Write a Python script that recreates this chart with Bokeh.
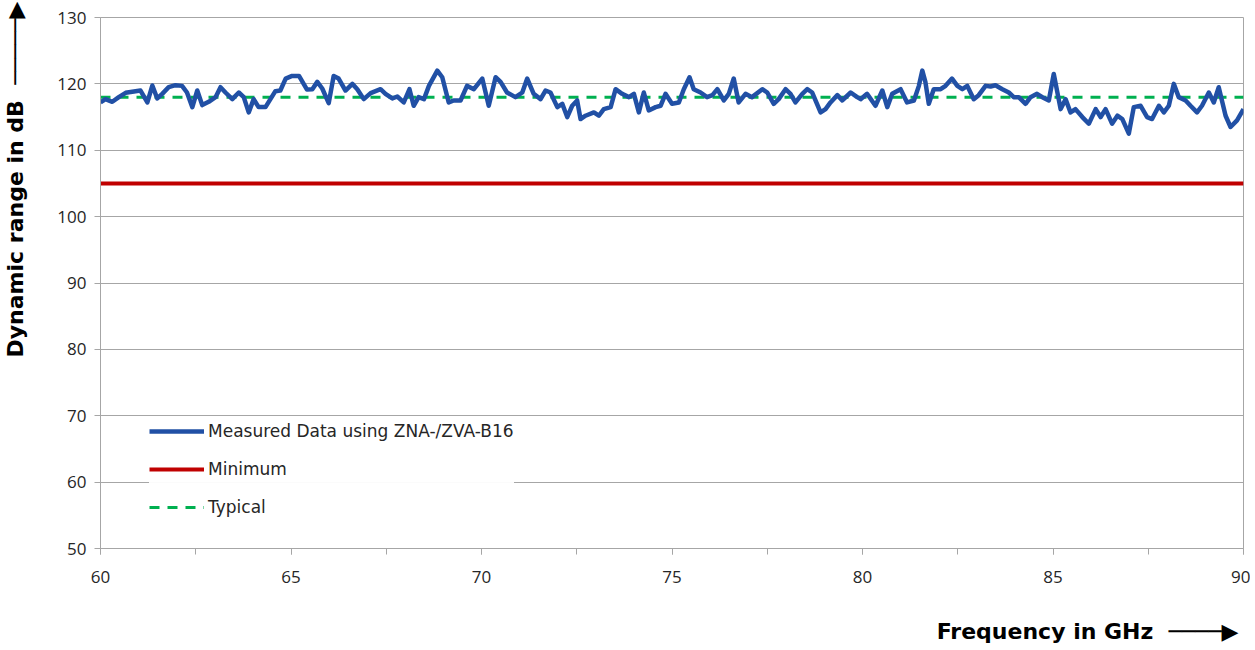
from bokeh.plotting import figure
from bokeh.models import (Legend, LegendItem, Title, SingleIntervalTicker, Range1d)
from bokeh.embed import file_html
from bokeh.resources import INLINE

freq = [60.00, 60.13, 60.31, 60.48, 60.66, 60.92, 61.05, 61.23, 61.36, 61.49,
        61.62, 61.79, 61.97, 62.14, 62.27, 62.41, 62.54, 62.67, 62.84, 63.02,
        63.15, 63.28, 63.46, 63.63, 63.76, 63.89, 64.02, 64.15, 64.33, 64.46,
        64.59, 64.72, 64.86,
        65.03, 65.21, 65.42, 65.56, 65.69, 65.82, 65.99, 66.12, 66.25, 66.43,
        66.61, 66.74, 66.91, 67.09, 67.35, 67.48, 67.66, 67.79, 67.96, 68.11,
        68.22, 68.35, 68.49, 68.62, 68.84, 68.97, 69.14, 69.27, 69.45, 69.62,
        69.80,
        70.02, 70.19, 70.37, 70.50, 70.67, 70.89, 71.07, 71.20, 71.37, 71.55,
        71.68, 71.81, 71.99, 72.12, 72.25, 72.38, 72.51, 72.60, 72.73, 72.95,
        73.08, 73.21, 73.39, 73.52, 73.69, 73.87, 74.00, 74.13, 74.26, 74.39,
        74.57, 74.70, 74.83,
        75.00, 75.18, 75.31, 75.46, 75.57, 75.75, 75.92, 76.06, 76.19, 76.36,
        76.49, 76.62, 76.75, 76.93, 77.10, 77.37, 77.50, 77.67, 77.80, 77.98,
        78.11, 78.24, 78.42, 78.55, 78.68, 78.90, 79.03, 79.16, 79.34, 79.47,
        79.69, 79.86,
        79.95, 80.12, 80.34, 80.52, 80.65, 80.78, 81.00, 81.17, 81.35, 81.48,
        81.57, 81.65, 81.74, 81.87, 82.05, 82.18, 82.35, 82.49, 82.62, 82.75,
        82.92, 83.05, 83.23, 83.36, 83.49, 83.67, 83.84, 83.97, 84.10, 84.28,
        84.41, 84.58, 84.72,
        84.89, 85.02, 85.20, 85.33, 85.46, 85.59, 85.77, 85.94, 86.12, 86.25,
        86.38, 86.55, 86.69, 86.82, 86.99, 87.12, 87.30, 87.47, 87.60, 87.78,
        87.91, 88.04, 88.17, 88.30, 88.48, 88.61, 88.78, 88.91, 89.09, 89.22,
        89.35, 89.53, 89.66, 89.83, 90.00]

measured = [117.2, 117.7, 117.3, 118.0, 118.65, 118.9, 119.0, 117.2, 119.75, 117.8,
            118.5, 119.5, 119.8, 119.7, 118.7, 116.5, 119.0, 116.8, 117.3, 118.0,
            119.5, 118.7, 117.7, 118.7, 118.0, 115.7, 117.7, 116.5, 116.5, 117.7,
            118.9, 119.0, 120.8,
            121.2, 121.2, 119.15, 119.2, 120.3, 119.3, 117.1, 121.2, 120.8, 119.0,
            120.0, 119.2, 117.7, 118.6, 119.2, 118.5, 117.8, 118.1, 117.2, 119.2,
            116.7, 118.0, 117.7, 119.7, 122.0, 121.0, 117.2, 117.5, 117.5, 119.7,
            119.2,
            120.8, 116.7, 121.0, 120.3, 118.7, 118.0, 118.7, 120.8, 118.5, 117.7,
            119.0, 118.7, 116.5, 117.0, 115.0, 116.7, 117.5, 114.7, 115.2, 115.7,
            115.2, 116.2, 116.5, 119.2, 118.5, 118.0, 118.5, 115.7, 118.7, 116.0,
            116.5, 116.7, 118.5,
            117.0, 117.2, 119.2, 121.0, 119.2, 118.7, 118.0, 118.3, 119.2, 117.5,
            118.5, 120.8, 117.2, 118.5, 118.0, 119.2, 118.7, 117.0, 117.7, 119.2,
            118.5, 117.2, 118.5, 119.2, 118.7, 115.7, 116.2, 117.2, 118.3, 117.5,
            118.7, 118.0,
            117.7, 118.5, 116.7, 119.0, 116.5, 118.5, 119.2, 117.2, 117.5, 119.7,
            122.0, 120.3, 117.0, 119.2, 119.2, 119.7, 120.8, 119.7, 119.2, 119.7,
            117.7, 118.3, 119.7, 119.6, 119.8, 119.2, 118.7, 118.0, 118.0, 117.0,
            118.0, 118.5, 118.0,
            117.5, 121.5, 116.2, 117.7, 115.7, 116.2, 115.0, 114.0, 116.2, 115.0,
            116.2, 114.0, 115.2, 114.7, 112.5, 116.5, 116.7, 115.0, 114.7, 116.7,
            115.7, 116.7, 120.0, 118.0, 117.5, 116.7, 115.7, 116.7, 118.7, 117.2,
            119.5, 115.2, 113.5, 114.5, 116.2]

minimum_db = 105
typical_db = 118
x_range = [60, 90]
y_range = [50, 130]

legend_labels = ["Measured Data using ZNA-/ZVA-B16", "Minimum", "Typical"]
ARROW_X = "\u2500\u2500\u2500\u2500\u25B6"
ARROW_Y = "\u2500\u2500\u2500\u2500\u2500\u25B6"
x_title = "Frequency in GHz"
y_title = "Dynamic range in dB"

BLUE = "#2150a5"
RED = "#c00000"
GREEN = "#00b050"
GRID = "#a6a6a6"
TEXT = "#262626"
FONT = "Open Sans"
WIDE = "DejaVu Sans"

W, H = 1250, 645
p = figure(width=W, height=H, output_backend="svg", toolbar_location=None,
           x_range=Range1d(*x_range), y_range=Range1d(*y_range),
           min_border_left=100, min_border_right=7, min_border_top=17,
           min_border_bottom=97)
p.outline_line_color = GRID
p.background_fill_color = "white"
p.border_fill_color = "white"

p.xgrid.grid_line_color = None
p.ygrid.grid_line_color = GRID
p.ygrid.grid_line_width = 1

p.xaxis.ticker = SingleIntervalTicker(interval=5, num_minor_ticks=2)
p.yaxis.ticker = SingleIntervalTicker(interval=10, num_minor_ticks=0)
for ax in (p.xaxis, p.yaxis):
    ax.axis_line_color = GRID
    ax.major_tick_line_color = GRID
    ax.minor_tick_line_color = GRID
    ax.major_tick_out = 6
    ax.major_tick_in = 0
    ax.minor_tick_out = 6
    ax.minor_tick_in = 0
    ax.major_label_text_font = FONT
    ax.major_label_text_font_size = "17px"
    ax.major_label_text_color = TEXT
p.yaxis.major_label_standoff = 8
p.xaxis.major_label_standoff = 16

# y title: axis label; leading no-break spaces push the visible text to the top
p.yaxis.axis_label = "\u00a0" * 27 + y_title + "\u00a0\u00a0" + ARROW_Y
p.yaxis.axis_label_text_font = WIDE
p.yaxis.axis_label_text_font_size = "22px"
p.yaxis.axis_label_text_font_style = "bold"
p.yaxis.axis_label_text_color = "black"
p.yaxis.axis_label_standoff = 26

r_min = p.line(x_range, [minimum_db, minimum_db], line_color=RED, line_width=4)
r_typ = p.line(x_range, [typical_db, typical_db], line_color=GREEN, line_width=3,
               line_dash="10 8")
r_meas = p.line(freq, measured, line_color=BLUE, line_width=4.5, line_join="round")

legend = Legend(items=[LegendItem(label=legend_labels[0], renderers=[r_meas]),
                       LegendItem(label=legend_labels[1], renderers=[r_min]),
                       LegendItem(label=legend_labels[2], renderers=[r_typ])],
                location=(49, 31), background_fill_color="white",
                border_line_color=None, label_text_font=WIDE,
                label_text_font_size="17px", label_text_color=TEXT,
                glyph_width=55, glyph_height=20, label_height=20,
                spacing=18, padding=8, margin=0, label_standoff=4)
p.add_layout(legend, "center")

# spacer title (invisible) so the x title sits lower, as in the original
spacer = Title(text="\u00a0", text_font_size="1px", standoff=26, text_color="white")
p.add_layout(spacer, "below")
xtitle = Title(text=x_title + "\u00a0\u00a0" + ARROW_X, align="right", offset=5,
               text_font=WIDE, text_font_size="22px", text_font_style="bold",
               text_color="black", standoff=4)
p.add_layout(xtitle, "below")

open("out.html", "w").write(file_html(p, INLINE))
